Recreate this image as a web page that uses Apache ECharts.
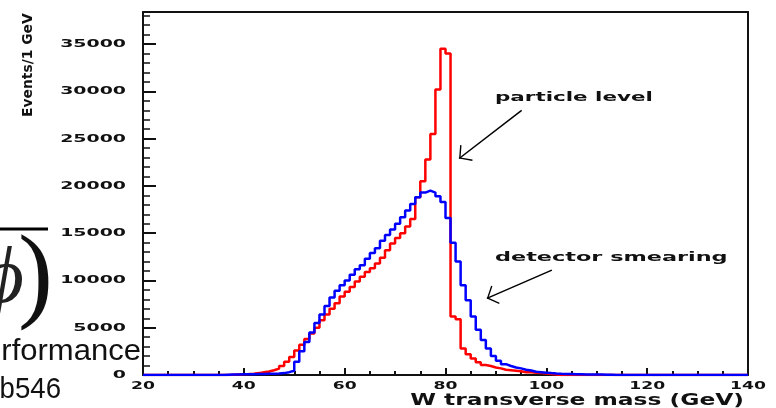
<!DOCTYPE html>
<html>
<head>
<meta charset="utf-8">
<title>W transverse mass</title>
<script src="https://cdn.jsdelivr.net/npm/echarts@6/dist/echarts.min.js"></script>
<style>
  html, body { margin: 0; padding: 0; background: #fff; }
  #chart { width: 776px; height: 408px; }
</style>
</head>
<body>
<div id="chart"></div>
<script>
// 1 GeV bins, left edges 20 .. 139
const binStart = 20
const binEnd = 140

const particleLevel = [
  0, 0, 0, 0, 0, 0, 0, 0, 0, 0,                                   // 20-29
  0, 0, 0, 0, 0, 0, 0, 30, 60, 80,                                // 30-39
  100, 130, 200, 300, 380, 500, 680, 950, 1400, 1900,             // 40-49
  2600, 3200, 3800, 4400, 5000, 5800, 6400, 7000, 7600, 8300,     // 50-59
  8800, 9300, 9900, 10400, 10900, 11300, 11800, 12400, 13200, 13900, // 60-69
  14500, 15000, 15700, 16500, 18800, 20500, 22800, 25500, 30200, 34500, // 70-79
  34000, 6200, 5900, 2800, 2200, 1750, 1350, 1050, 950, 800,      // 80-89
  700, 550, 500, 450, 400, 300, 280, 250, 200, 150,               // 90-99
  100, 50, 0, 0, 0, 0, 0, 0, 0, 0,                                // 100-109
  0, 0, 0, 0, 0, 0, 0, 0, 0, 0,                                   // 110-119
  0, 0, 0, 0, 0, 0, 0, 0, 0, 0,                                   // 120-129
  0, 0, 0, 0, 0, 0, 0, 0, 0, 0                                    // 130-139
]

const detectorSmearing = [
  0, 0, 0, 0, 0, 0, 0, 0, 0, 0,                                   // 20-29
  0, 0, 0, 0, 0, 0, 30, 50, 60, 70,                               // 30-39
  80, 80, 100, 100, 120, 140, 160, 200, 300, 450,                 // 40-49
  1400, 2500, 3500, 4500, 5500, 6400, 7300, 8200, 8900, 9500,     // 50-59
  10000, 10600, 11200, 11600, 12300, 12900, 13400, 14200, 14800, 15400, // 60-69
  16000, 16700, 17400, 18100, 18800, 19300, 19500, 19300, 18900, 18300, // 70-79
  16600, 14000, 12000, 9500, 7900, 6200, 4800, 3700, 2800, 2000,  // 80-89
  1500, 1150, 950, 800, 700, 550, 480, 350, 300, 250,             // 90-99
  200, 160, 130, 110, 100, 80, 70, 60, 50, 40,                    // 100-109
  40, 30, 20, 0, 0, 0, 0, 0, 0, 0,                                // 110-119
  0, 0, 0, 0, 0, 0, 0, 0, 0, 0,                                   // 120-129
  0, 0, 0, 0, 0, 0, 0, 0, 0, 0                                    // 130-139
]

const xTickLabels = ['20', '40', '60', '80', '100', '120', '140']
const yTickLabels = ['0', '5000', '10000', '15000', '20000', '25000', '30000', '35000']

// arrow [from, to] in data units
const particleArrow = [[95.1, 28000], [82.7, 22900]]
const smearArrow = [[101.1, 11100], [88.2, 8100]]

const toSteps = values => {
  const pts = values.map((v, i) => [binStart + i, v])
  pts.push([binEnd, values[values.length - 1]])
  return pts
}

// open arrow head, tip in the middle of its box
const chevron = 'path://M0,-10 L0.01,-10 L0,-9.99 Z M0,0 L10,9 L9,10 L0,1.8 L-9,10 L-10,9 Z'

const ink = '#111'
const yMax = 38400

const chart = echarts.init(document.getElementById('chart'))

// plain lines that close the frame on top and right
const frameAxis = {
  axisLine: { show: true, onZero: false, lineStyle: { color: ink, width: 2 } },
  axisTick: { show: false },
  axisLabel: { show: false },
  splitLine: { show: false }
}

chart.setOption({
  animation: false,
  backgroundColor: '#fff',
  textStyle: { fontFamily: 'DejaVu Sans' },
  grid: { left: 143, top: 12, width: 605, height: 363 },
  xAxis: [
    {
      type: 'value',
      min: binStart,
      max: binEnd,
      interval: 20,
      axisLine: { show: true, onZero: false, lineStyle: { color: ink, width: 2 } },
      axisTick: { show: true, inside: true, length: 7, lineStyle: { color: ink, width: 2 } },
      minorTick: { show: true, splitNumber: 4, length: 4, lineStyle: { color: ink, width: 2 } },
      axisLabel: { show: false },
      splitLine: { show: false }
    },
    { type: 'value', position: 'top', min: binStart, max: binEnd, ...frameAxis }
  ],
  yAxis: [
    {
      type: 'value',
      min: 0,
      max: yMax,
      interval: 5000,
      axisLine: { show: true, onZero: false, lineStyle: { color: ink, width: 2 } },
      axisTick: { show: true, inside: true, length: 13, lineStyle: { color: ink, width: 2 } },
      axisLabel: { show: false },
      splitLine: { show: false }
    },
    {
      type: 'value',
      min: 0,
      max: yMax,
      interval: 1000,
      position: 'left',
      axisLine: { show: false, onZero: false },
      axisTick: { show: true, inside: true, length: 7, lineStyle: { color: ink, width: 1.5 } },
      axisLabel: { show: false },
      splitLine: { show: false }
    },
    { type: 'value', position: 'right', min: 0, max: yMax, ...frameAxis }
  ],
  series: [
    {
      name: 'particle level',
      type: 'line',
      step: 'end',
      symbol: 'none',
      silent: true,
      z: 2,
      lineStyle: { color: '#ff0000', width: 2.5 },
      itemStyle: { color: '#ff0000' },
      data: toSteps(particleLevel)
    },
    {
      name: 'detector smearing',
      type: 'line',
      step: 'end',
      symbol: 'none',
      silent: true,
      z: 3,
      lineStyle: { color: '#0000ff', width: 2.5 },
      itemStyle: { color: '#0000ff' },
      data: toSteps(detectorSmearing),
      markLine: {
        silent: true,
        symbol: ['none', chevron],
        symbolSize: 20,
        label: { show: false },
        emphasis: { disabled: true },
        lineStyle: { color: '#000', width: 1.5, type: 'solid' },
        itemStyle: { color: '#000' },
        data: [
          [{ coord: particleArrow[0] }, { coord: particleArrow[1] }],
          [{ coord: smearArrow[0] }, { coord: smearArrow[1] }]
        ]
      }
    }
  ]
})

// the labels of the original are stretched sideways, so draw them as scaled text
const px = v => chart.convertToPixel({ xAxisIndex: 0 }, v)
const py = v => chart.convertToPixel({ yAxisIndex: 0 }, v)

const graphics = []

yTickLabels.forEach(t => {
  graphics.push({
    type: 'text', silent: true,
    x: 126, y: py(Number(t)), scaleX: 1.72,
    style: { text: t, font: 'bold 11px "DejaVu Sans"', fill: ink, align: 'right', verticalAlign: 'middle' }
  })
})

xTickLabels.forEach(t => {
  graphics.push({
    type: 'text', silent: true,
    x: px(Number(t)), y: 386, scaleX: 1.72,
    style: { text: t, font: 'bold 10px "DejaVu Sans"', fill: ink, align: 'center', verticalAlign: 'middle' }
  })
})

graphics.push(
  {
    type: 'text', silent: true,
    x: 744, y: 400.5, scaleX: 1.46,
    style: { text: 'W transverse mass (GeV)', font: 'bold 16px "DejaVu Sans"', fill: ink, align: 'right', verticalAlign: 'middle' }
  },
  {
    type: 'text', silent: true,
    x: 28, y: 117, rotation: Math.PI / 2, scaleX: 0.99,
    style: { text: 'Events/1 GeV', font: 'bold 14px "DejaVu Sans"', fill: ink, align: 'left', verticalAlign: 'middle' }
  },
  {
    type: 'text', silent: true,
    x: 495, y: 98, scaleX: 1.65,
    style: { text: 'particle level', font: 'bold 13px "DejaVu Sans"', fill: ink, align: 'left', verticalAlign: 'middle' }
  },
  {
    type: 'text', silent: true,
    x: 495, y: 258, scaleX: 1.72,
    style: { text: 'detector smearing', font: 'bold 13px "DejaVu Sans"', fill: ink, align: 'left', verticalAlign: 'middle' }
  },
  // pieces of the slide behind the plot, cut at the left edge
  {
    type: 'line', silent: true,
    shape: { x1: 0, y1: 229, x2: 48, y2: 229 },
    style: { stroke: '#000', lineWidth: 3 }
  },
  {
    type: 'text', silent: true,
    x: 53, y: 280,
    style: { text: ')', font: '105px "Liberation Serif"', fill: '#111', align: 'right', verticalAlign: 'middle' }
  },
  {
    type: 'text', silent: true,
    x: 24, y: 281,
    style: { text: 'ϕ', font: 'italic 80px "Liberation Serif"', fill: '#222', align: 'right', verticalAlign: 'middle' }
  },
  {
    type: 'text', silent: true,
    x: 141, y: 352, scaleX: 1.07,
    style: { text: 'rformance', font: '29px "Liberation Sans"', fill: '#111', align: 'right', verticalAlign: 'middle' }
  },
  {
    type: 'text', silent: true,
    x: 61, y: 389.6, scaleX: 0.92,
    style: { text: 'b546', font: '30px "Liberation Sans"', fill: '#111', align: 'right', verticalAlign: 'middle' }
  }
)

chart.setOption({ graphic: graphics })
</script>
</body>
</html>
